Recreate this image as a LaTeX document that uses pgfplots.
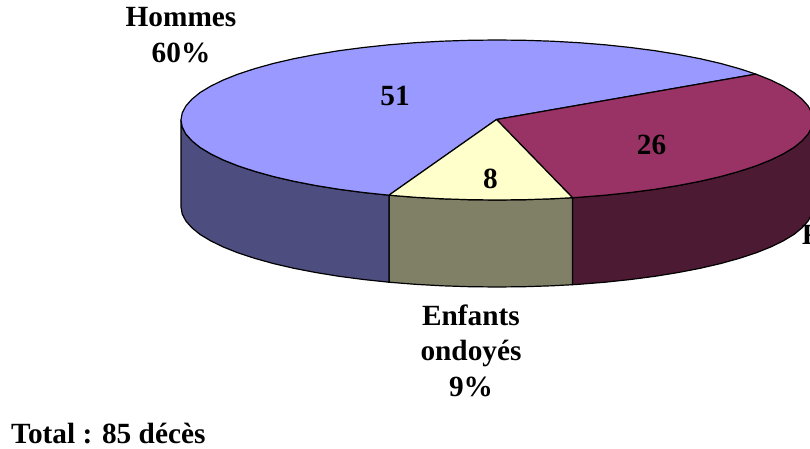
\documentclass[border=0pt]{standalone}
\usepackage{fontspec}
\setmainfont{Liberation Serif}
\usepackage{pgfplots}
\pgfplotsset{compat=1.18}
\definecolor{hommes}{HTML}{9999FF}
\definecolor{hommesS}{HTML}{4D4D80}
\definecolor{femmes}{HTML}{993366}
\definecolor{femmesS}{HTML}{4D1A33}
\definecolor{enfants}{HTML}{FFFFCC}
\definecolor{enfantsS}{HTML}{808066}
\tikzset{lab/.style={font=\fontsize{29.3}{32}\selectfont\bfseries,anchor=base,inner sep=0pt,text=black}}
\begin{document}
\begin{tikzpicture}
\clip (0,0) rectangle (810pt,449pt);
\begin{axis}[
  at={(0,0)},anchor=south west,
  scale only axis,width=810pt,height=449pt,
  xmin=0,xmax=810,ymin=0,ymax=449,y dir=reverse,
  hide axis,clip=false,
  every axis plot/.append style={line width=1.2pt,draw=black,line join=round},
]
% sides
\addplot[fill=femmesS] coordinates {(813,120)(811.8,127)(808.2,133.9)(802.2,140.7)(794,147.4)(783.4,153.8)(770.7,160)(755.9,165.9)(739.1,171.4)(720.4,176.6)(700.1,181.3)(678.3,185.5)(655,189.3)(630.5,192.5)(605.1,195.2)(578.8,197.3)(572.5,197.7)
(572.5,284.7)(578.8,284.3)(605.1,282.2)(630.5,279.5)(655,276.3)(678.3,272.5)(700.1,268.3)(720.4,263.6)(739.1,258.4)(755.9,252.9)(770.7,247)(783.4,240.8)(794,234.4)(802.2,227.7)(808.2,220.9)(811.8,214)(813,207)} --cycle;
\addplot[fill=enfantsS] coordinates {(572.5,197.7)(551.9,198.8)(524.6,199.7)(497,200)(469.4,199.7)(442.1,198.8)(415.2,197.3)(388.9,195.2)
(388.9,282.2)(415.2,284.3)(442.1,285.8)(469.4,286.7)(497,287)(524.6,286.7)(551.9,285.8)(572.5,284.7)} --cycle;
\addplot[fill=hommesS] coordinates {(388.9,195.2)(363.5,192.5)(339,189.3)(315.7,185.5)(293.9,181.3)(273.6,176.6)(254.9,171.4)(238.1,165.9)(223.3,160)(210.6,153.8)(200,147.4)(191.8,140.7)(185.8,133.9)(182.2,127)(181,120)
(181,207)(182.2,214)(185.8,220.9)(191.8,227.7)(200,234.4)(210.6,240.8)(223.3,247)(238.1,252.9)(254.9,258.4)(273.6,263.6)(293.9,268.3)(315.7,272.5)(339,276.3)(363.5,279.5)(388.9,282.2)} --cycle;
% tops
\addplot[fill=hommes] coordinates {(496.5,119.5)(388.9,195.2)(363.5,192.5)(339,189.3)(315.7,185.5)(293.9,181.3)(273.6,176.6)(254.9,171.4)(238.1,165.9)(223.3,160)(210.6,153.8)(200,147.4)(191.8,140.7)(185.8,133.9)(182.2,127)(181,120)(182.2,113)(185.8,106.1)(191.8,99.3)(200,92.6)(210.6,86.2)(223.3,80)(238.1,74.1)(254.9,68.6)(273.6,63.4)(293.9,58.7)(315.7,54.5)(339,50.7)(363.5,47.5)(388.9,44.8)(415.2,42.7)(442.1,41.2)(469.4,40.3)(497,40)(524.6,40.3)(551.9,41.2)(578.8,42.7)(605.1,44.8)(630.5,47.5)(655,50.7)(678.3,54.5)(700.1,58.7)(720.4,63.4)(739.1,68.6)(755.9,74.1)} --cycle;
\addplot[fill=femmes] coordinates {(496.5,119.5)(755.9,74.1)(770.7,80)(783.4,86.2)(794,92.6)(802.2,99.3)(808.2,106.1)(811.8,113)(813,120)(811.8,127)(808.2,133.9)(802.2,140.7)(794,147.4)(783.4,153.8)(770.7,160)(755.9,165.9)(739.1,171.4)(720.4,176.6)(700.1,181.3)(678.3,185.5)(655,189.3)(630.5,192.5)(605.1,195.2)(578.8,197.3)(572.5,197.7)} --cycle;
\addplot[fill=enfants] coordinates {(496.5,119.5)(572.5,197.7)(551.9,198.8)(524.6,199.7)(497,200)(469.4,199.7)(442.1,198.8)(415.2,197.3)(388.9,195.2)} --cycle;
% labels
\node[lab] at (axis cs:181,27) {Hommes};
\node[lab] at (axis cs:181,63) {60\%};
\node[lab] at (axis cs:395,106) {51};
\node[lab] at (axis cs:651.5,155) {26};
\node[lab] at (axis cs:490.5,188.5) {8};
\node[lab] at (axis cs:854,244) {Femmes};
\node[lab] at (axis cs:854,280) {31\%};
\node[lab] at (axis cs:471,325) {Enfants};
\node[lab] at (axis cs:471,360) {ondoyés};
\node[lab] at (axis cs:471,396) {9\%};
\node[lab,anchor=base west] at (axis cs:11,443) {Total : 85 décès};
\end{axis}
\end{tikzpicture}
\end{document}
